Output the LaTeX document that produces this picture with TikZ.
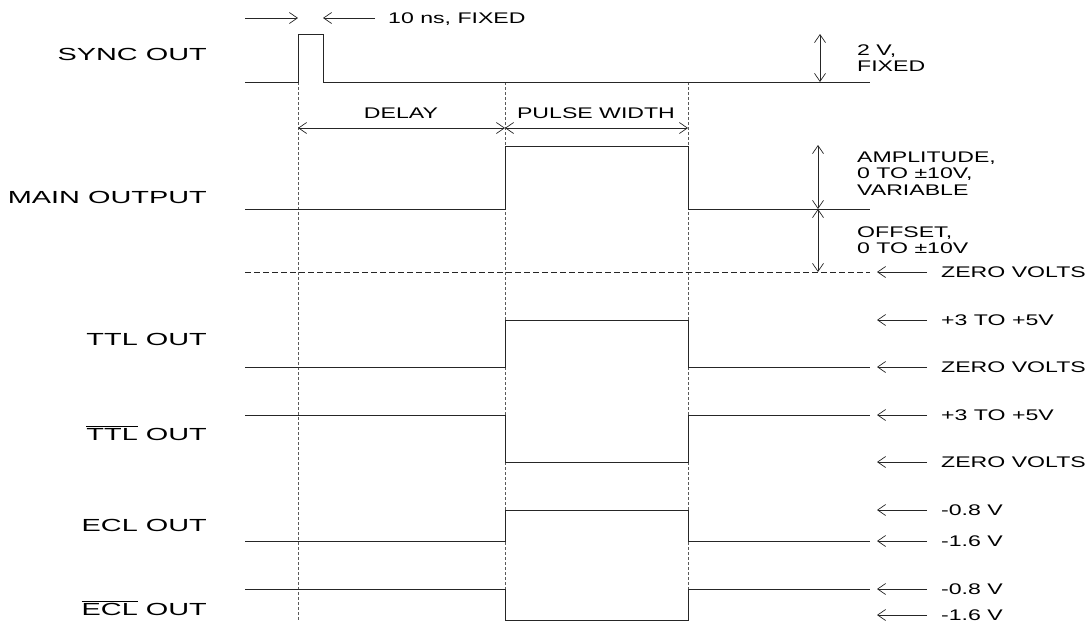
\documentclass[tikz,border=0pt]{standalone}
\usepackage{fontspec}
\setmainfont{Liberation Sans}
\newfontfamily\bigf[FakeStretch=1.65]{Liberation Sans}
\newfontfamily\smallf[FakeStretch=1.5]{Liberation Sans}
\usetikzlibrary{arrows.meta}
\begin{document}
\begin{tikzpicture}[x=1pt,y=-1pt,
  wave/.style={line width=0.9pt, black!85},
  guide/.style={line width=0.7pt, dash pattern=on 3pt off 2pt, black!65},
  zero/.style={line width=0.8pt, dash pattern=on 6pt off 3pt, black!85},
  dim/.style={line width=0.7pt, black!85, {Straight Barb[length=8pt,width=11pt]}-{Straight Barb[length=8pt,width=11pt]}},
  ptr/.style={line width=0.7pt, black!85, -{Straight Barb[length=8pt,width=11pt]}},
  lbl/.style={anchor=base east, inner sep=0pt, font=\bigf\fontsize{17.5}{20}\selectfont},
  sml/.style={anchor=base west, inner sep=0pt, font=\smallf\fontsize{15.4}{16.5}\selectfont},
]
\useasboundingbox (0,0) rectangle (1087,625);

% guides
\draw[guide] (298,82) -- (298,620);
\draw[guide] (505,82) -- (505,620);
\draw[guide] (688,82) -- (688,620);

% waveforms
\draw[wave] (245,82) -- (298,82) -- (298,34) -- (323,34) -- (323,82) -- (870,82);
\draw[wave] (245,209) -- (505,209) -- (505,146) -- (688,146) -- (688,209) -- (870,209);
\draw[zero] (245,272) -- (870,272);
\draw[wave] (245,367) -- (505,367) -- (505,320) -- (688,320) -- (688,367) -- (870,367);
\draw[wave] (245,415) -- (505,415) -- (505,462) -- (688,462) -- (688,415) -- (870,415);
\draw[wave] (245,541) -- (505,541) -- (505,510) -- (688,510) -- (688,541) -- (870,541);
\draw[wave] (245,589) -- (505,589) -- (505,620) -- (688,620) -- (688,589) -- (870,589);

% left labels
\node[lbl] (sync) at (207,60) {SYNC OUT};
\node[lbl] (main) at (207,203) {MAIN OUTPUT};
\node[lbl] (ttl) at (207,345) {TTL OUT};
\node[lbl] (ttlb) at (207,440) {$\overline{\hbox{\bigf\fontsize{17.5}{20}\selectfont TTL}}$ OUT};
\node[lbl] (ecl) at (207,531) {ECL OUT};
\node[lbl] (eclb) at (207,615) {$\overline{\hbox{\bigf\fontsize{17.5}{20}\selectfont ECL}}$ OUT};

% 10 ns
\coordinate (pa) at (245,18); \coordinate (pb) at (298,18);
\coordinate (pc) at (375,18); \coordinate (pd) at (323,18);
\draw[ptr] (pa) -- (pb);
\draw[ptr] (pc) -- (pd);
\node[sml] (tenns) at (388,23) {10 ns, FIXED};

% delay / pulse width
\coordinate (d1) at (298,128); \coordinate (d2) at (505,128); \coordinate (d3) at (688,128);
\draw[dim] (d1) -- (d2);
\draw[dim] (d2) -- (d3);
\node[sml, anchor=base] (delay) at (401,118) {DELAY};
\node[sml, anchor=base] (pw) at (596,118) {PULSE WIDTH};

% sync amplitude
\coordinate (s1) at (820,34); \coordinate (s2) at (820,82);
\draw[dim] (s1) -- (s2);
\node[sml] (sv1) at (857,55) {2 V,};
\node[sml] (sv2) at (857,71) {FIXED};

% amplitude / offset
\coordinate (a1) at (818,145); \coordinate (a2) at (818,209); \coordinate (a3) at (818,272);
\draw[dim] (a1) -- (a2);
\draw[dim] (a2) -- (a3);
\node[sml] (am1) at (857,162) {AMPLITUDE,};
\node[sml] (am2) at (857,178) {0 TO ±10V,};
\node[sml] (am3) at (857,195) {VARIABLE};
\node[sml] (of1) at (857,237) {OFFSET,};
\node[sml] (of2) at (857,253) {0 TO ±10V};

% right pointers
\foreach \yy/\txt [count=\i] in {272/ZERO VOLTS, 320/+3 TO +5V, 367/ZERO VOLTS, 415/+3 TO +5V, 462/ZERO VOLTS, 510/-0.8 V, 541/-1.6 V, 589/-0.8 V, 615/-1.6 V}{
  \coordinate (r\i a) at (927,\yy);
  \coordinate (r\i b) at (877,\yy);
  \draw[ptr] (r\i a) -- (r\i b);
  \node[sml] (rl\i) at (941,\yy+5.5) {\txt};
}
\end{tikzpicture}
\end{document}
